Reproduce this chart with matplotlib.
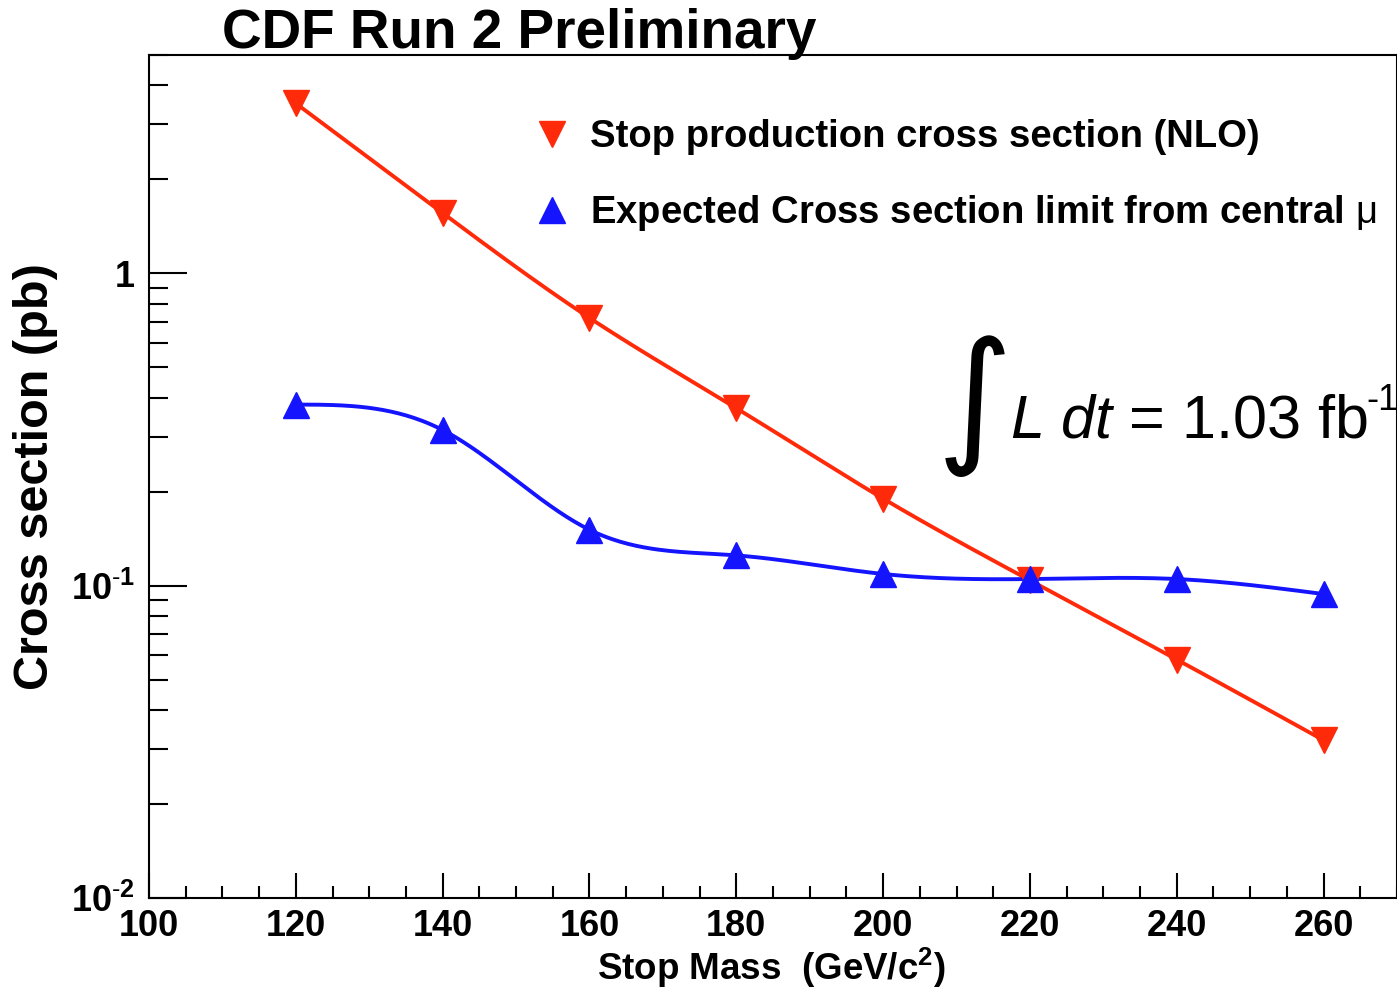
import numpy as np
import matplotlib
matplotlib.use('Agg')
import matplotlib.pyplot as plt
from matplotlib.ticker import FixedLocator, MultipleLocator, LogLocator, NullFormatter, FixedFormatter

plt.rcParams['font.family'] = ['Liberation Sans', 'DejaVu Sans']
plt.rcParams['mathtext.fontset'] = 'custom'
plt.rcParams['mathtext.rm'] = 'Liberation Sans'
plt.rcParams['mathtext.it'] = 'Liberation Sans:italic'
plt.rcParams['mathtext.bf'] = 'Liberation Sans:bold'

# stop mass points (GeV/c^2)
stop_mass = np.array([120, 140, 160, 180, 200, 220, 240, 260])
# NLO stop pair production cross section (pb)
xsec_nlo = np.array([3.5, 1.56, 0.72, 0.37, 0.19, 0.104, 0.058, 0.032])
# expected 95% CL limit from central muon channel (pb)
xsec_limit = np.array([0.38, 0.315, 0.151, 0.125, 0.109, 0.105, 0.105, 0.094])

ytick_vals = [0.01, 0.1, 1]
ytick_labels = [r'$\mathbf{10^{\text{-}2}}$', r'$\mathbf{10^{\text{-}1}}$', '1']


def natural_spline(x, y, xs):
    # natural cubic spline through (x, y), evaluated at xs
    n = len(x)
    h = np.diff(x).astype(float)
    A = np.zeros((n, n))
    r = np.zeros(n)
    A[0, 0] = A[-1, -1] = 1
    for i in range(1, n - 1):
        A[i, i - 1] = h[i - 1]
        A[i, i] = 2 * (h[i - 1] + h[i])
        A[i, i + 1] = h[i]
        r[i] = 3 * ((y[i + 1] - y[i]) / h[i] - (y[i] - y[i - 1]) / h[i - 1])
    c = np.linalg.solve(A, r)
    b = (y[1:] - y[:-1]) / h - h * (2 * c[:-1] + c[1:]) / 3
    d = (c[1:] - c[:-1]) / (3 * h)
    idx = np.clip(np.searchsorted(x, xs) - 1, 0, n - 2)
    dx = xs - x[idx]
    return y[idx] + b[idx] * dx + c[idx] * dx ** 2 + d[idx] * dx ** 3


red = '#ff2a0a'
blue = '#1414ff'

fig = plt.figure(figsize=(13.97, 9.91), dpi=100)
ax = fig.add_axes([149 / 1397, 93 / 991, 1 - 149 / 1397, (898 - 55) / 991])

xs = np.linspace(stop_mass[0], stop_mass[-1], 400)
ax.plot(xs, 10 ** natural_spline(stop_mass, np.log10(xsec_nlo), xs), color=red, lw=2.8)
ax.plot(xs, 10 ** natural_spline(stop_mass, np.log10(xsec_limit), xs), color=blue, lw=2.8)
h1, = ax.plot(stop_mass, xsec_nlo, 'v', color=red, ms=19, ls='none',
              label='Stop production cross section (NLO)')
h2, = ax.plot(stop_mass, xsec_limit, '^', color=blue, ms=19, ls='none',
              label=r'Expected Cross section limit from central $\mathrm{\mu}$')

ax.set_yscale('log')
ax.set_xlim(100, 270)
ax.set_ylim(0.01, 5)

ax.xaxis.set_major_locator(MultipleLocator(20))
ax.xaxis.set_minor_locator(MultipleLocator(5))
ax.yaxis.set_major_locator(FixedLocator(ytick_vals))
ax.yaxis.set_major_formatter(FixedFormatter(ytick_labels))
ax.yaxis.set_minor_locator(LogLocator(base=10, subs=np.arange(2, 10)))
ax.yaxis.set_minor_formatter(NullFormatter())

ax.tick_params(axis='x', which='major', direction='in', length=18, width=1.5, pad=8, labelsize=26)
ax.tick_params(axis='x', which='minor', direction='in', length=9, width=1.5)
ax.tick_params(axis='y', which='major', direction='in', length=27, width=1.5, pad=10, labelsize=26)
ax.tick_params(axis='y', which='minor', direction='in', length=14, width=1.5)
for lab in ax.get_xticklabels() + ax.get_yticklabels():
    lab.set_fontweight('bold')
for sp in ax.spines.values():
    sp.set_linewidth(1.5)

ax.set_xlabel(r'Stop Mass  (GeV/c$\mathbf{^{2}}$)', fontsize=26.5, fontweight='bold', labelpad=0)
ax.set_ylabel('Cross section (pb)', fontsize=35, fontweight='bold')
ax.xaxis.set_label_coords(0.499, -0.057)
ax.yaxis.set_label_coords(-0.073, 0.5)

fig.text(222 / 1397, 1 - 48 / 991, 'CDF Run 2 Preliminary', fontsize=39.5, fontweight='bold',
         ha='left', va='baseline')

leg = ax.legend(handles=[h1, h2], loc='upper left', bbox_to_anchor=(533 / 1397, 1 - 119 / 991),
                bbox_transform=fig.transFigure, frameon=False, borderpad=0, borderaxespad=0,
                handlelength=1.0, handletextpad=0.5, labelspacing=1.0,
                prop={'size': 27.5, 'weight': 'bold'})

# integrated luminosity
fig.text(975 / 1397, 1 - 406 / 991, '\u222b', fontsize=105, family=['DejaVu Sans'],
         ha='center', va='center')
fig.text(1010 / 1397, 1 - 437 / 991, r'$\mathit{L\ dt}$ = 1.03 fb', fontsize=44,
         ha='left', va='baseline')
fig.text(1366 / 1397, 1 - 410 / 991, '-1', fontsize=26, ha='left', va='baseline')

fig.savefig('out.png', dpi=100)
